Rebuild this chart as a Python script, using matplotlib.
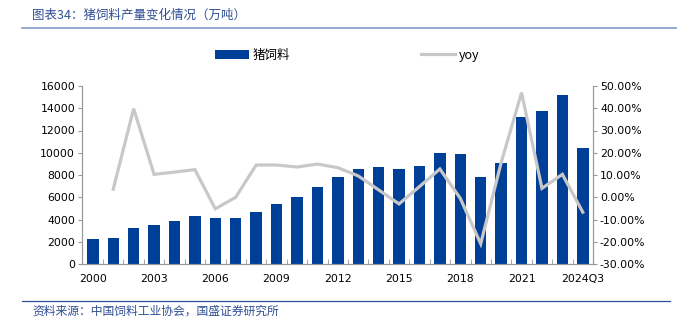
import numpy as np
import matplotlib.pyplot as plt
from matplotlib.ticker import FuncFormatter, FixedLocator

plt.rcParams['font.family'] = ['DejaVu Sans', 'Noto Sans CJK SC']

years = [str(y) for y in range(2000, 2024)] + ['2024Q3']
feed = [2250, 2350, 3200, 3550, 3900, 4350, 4150, 4150, 4700, 5350,
        6050, 6950, 7850, 8550, 8750, 8500, 8850, 9950, 9850, 7800,
        9050, 13250, 13750, 15150, 10400]
yoy = [np.nan, 3.6, 39.8, 10.3, 11.3, 12.4, -5.2, 0.0, 14.5, 14.5,
       13.6, 14.9, 13.3, 9.6, 3.3, -3.0, 4.8, 12.7, -0.5, -20.9,
       15.5, 47.0, 4.0, 10.3, -6.7]
xlabels_show = ['2000', '2003', '2006', '2009', '2012', '2015', '2018', '2021', '2024Q3']

blue = '#003F98'
grey = '#C8C8C8'
title_blue = '#2E4E94'
cjk = ['Noto Sans CJK SC', 'DejaVu Sans']

fig = plt.figure(figsize=(6.77, 3.30), dpi=100)
ax = fig.add_axes([82/677, 1-264/330, (593-82)/677, (264-86)/330])
ax2 = ax.twinx()

x = np.arange(len(years))
bars = ax.bar(x, feed, width=0.56, color=blue, zorder=2, label='猪饲料')
line, = ax2.plot(x, yoy, color=grey, lw=2.3, solid_joinstyle='miter', label='yoy')

ax.set_xlim(-0.53, len(years) - 0.5)
ax.set_ylim(0, 16000)
ax.set_yticks(np.arange(0, 16001, 2000))
ax2.set_ylim(-30, 50)
ax2.set_yticks(np.arange(-30, 51, 10))
ax2.yaxis.set_major_formatter(FuncFormatter(lambda v, p: '%.2f%%' % v))

ticks = [years.index(l) for l in xlabels_show]
ax.set_xticks(ticks)
ax.set_xticklabels(xlabels_show)
ax.xaxis.set_minor_locator(FixedLocator(np.arange(0.5, len(years) - 1, 1)))
ax.tick_params(axis='x', which='major', length=0, pad=7, labelsize=7.8)
ax.tick_params(axis='x', which='minor', direction='in', length=3.5, color='#999999')
ax.tick_params(axis='y', length=3, color='#999999', labelsize=7.8, pad=2)
ax2.tick_params(axis='y', length=3, color='#999999', labelsize=7.8, pad=2)

for a in (ax, ax2):
    a.spines['top'].set_visible(False)
    for s in ('left', 'right', 'bottom'):
        a.spines[s].set_color('#999999')
        a.spines[s].set_linewidth(0.8)

fig.legend([bars, line], ['猪饲料', 'yoy'], loc='center', bbox_to_anchor=(0.513, 0.833),
           ncol=2, frameon=False, handlelength=2.7, handletextpad=0.3,
           columnspacing=10.5, prop={'family': cjk, 'size': 9})

fig.text(32/677, 1-15/330, '图表34：猪饲料产量变化情况（万吨）', color=title_blue,
         fontsize=9, family=cjk, style='italic', va='center', ha='left')
fig.add_artist(plt.Line2D([22/677, 1.0], [1-28/330, 1-28/330], color='#7F9CCB', lw=1.2))
fig.add_artist(plt.Line2D([22/677, 670/677], [1-301/330, 1-301/330], color='#2E4E94', lw=0.9))
fig.text(32/677, 1-311/330, '资料来源：中国饲料工业协会，国盛证券研究所', color=title_blue,
         fontsize=8.5, family=cjk, style='italic', va='center', ha='left')

fig.savefig('out.png', dpi=100)
